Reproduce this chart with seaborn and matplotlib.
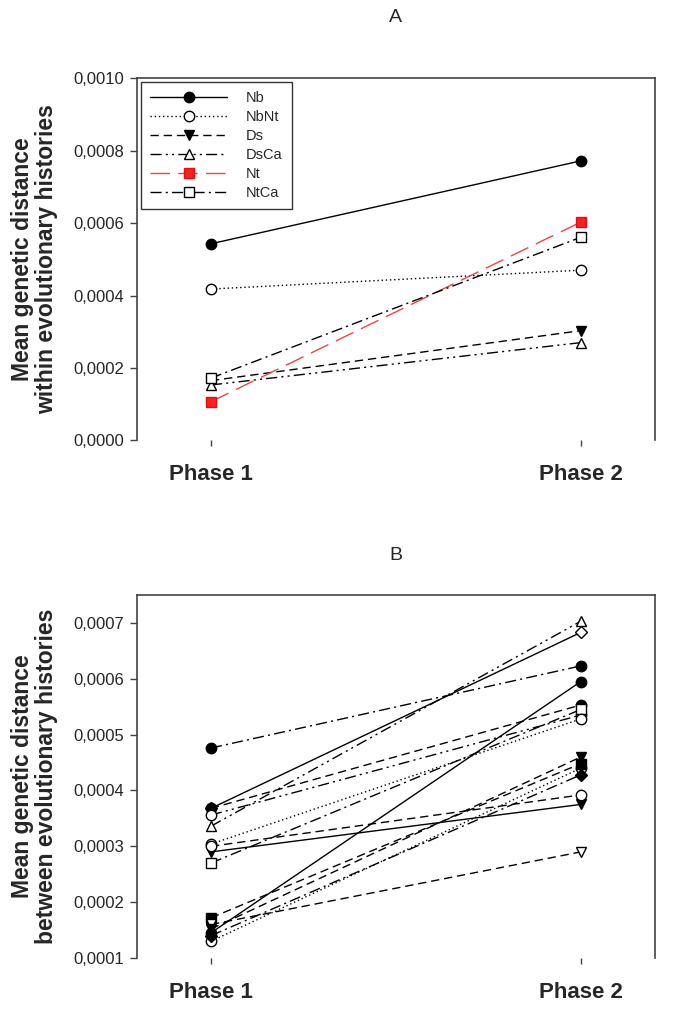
import numpy as np
import pandas as pd
import seaborn as sns
import matplotlib
matplotlib.use("Agg")
import matplotlib.pyplot as plt

sns.set_style("ticks")
plt.rcParams['font.family'] = ['Liberation Sans', 'DejaVu Sans']

phases = ["Phase 1", "Phase 2"]

# panel A: within evolutionary histories
a_names = ["Nb", "NbNt", "Ds", "DsCa", "Nt", "NtCa"]
a_phase1 = [0.000543, 0.000418, 0.000165, 0.000153, 0.000107, 0.000172]
a_phase2 = [0.000772, 0.000470, 0.000303, 0.000270, 0.000603, 0.000561]

# panel B: between evolutionary histories
b_phase1 = [0.000130, 0.000476, 0.000368, 0.000336, 0.000145, 0.000368, 0.000356, 0.000270,
            0.000304, 0.000290, 0.000300, 0.000172, 0.000160, 0.000152, 0.000140]
b_phase2 = [0.000440, 0.000623, 0.000683, 0.000703, 0.000595, 0.000553, 0.000535, 0.000545,
            0.000528, 0.000375, 0.000392, 0.000448, 0.000290, 0.000460, 0.000428]

# line styles
solid = '-'
dot = (0, (1, 2))
dash = (0, (6, 3.5))
dashdot = (0, (8, 3, 1.5, 3))
dashdotdot = (0, (8, 3, 1.5, 3, 1.5, 3))
longdash = (0, (14, 6))

a_styles = [('o', 'black', solid, 'black'),
            ('o', 'white', dot, 'black'),
            ('v', 'black', dash, 'black'),
            ('^', 'white', dashdotdot, 'black'),
            ('s', '#ff1e1e', longdash, '#ec4448'),
            ('s', 'white', dashdot, 'black')]

b_styles = [('o', 'white', dot), ('o', 'black', dashdot), ('D', 'white', solid),
            ('^', 'white', dashdotdot), ('o', 'black', solid), ('o', 'black', dash),
            ('o', 'white', dashdotdot), ('s', 'white', dashdot), ('o', 'white', dot),
            ('v', 'black', solid), ('o', 'white', dash), ('s', 'black', dash),
            ('v', 'white', dash), ('v', 'black', dash), ('D', 'black', dashdot)]

fig = plt.figure(figsize=(6.85, 10.17), dpi=100)
axA = fig.add_axes([0.2, 0.567, 0.756, 0.356])
axB = fig.add_axes([0.2, 0.058, 0.756, 0.357])

for i, name in enumerate(a_names):
    m, fc, ls, lc = a_styles[i]
    sns.lineplot(x=phases, y=[a_phase1[i], a_phase2[i]], ax=axA, color=lc,
                 linestyle=ls, linewidth=1.0, marker=m, markersize=7.5 if m != 's' else 7,
                 markerfacecolor=fc, markeredgecolor='black' if fc != '#ff1e1e' else '#dd1111',
                 markeredgewidth=1.0, label=name)

for i in range(len(b_phase1)):
    m, fc, ls = b_styles[i]
    sns.lineplot(x=phases, y=[b_phase1[i], b_phase2[i]], ax=axB, color='black',
                 linestyle=ls, linewidth=1.0, marker=m, markersize=7.5 if m not in 'sD' else 6.5,
                 markerfacecolor=fc, markeredgecolor='black', markeredgewidth=1.0)

axA.set_ylim(0, 0.001)
axA.set_yticks(np.arange(0, 0.0011, 0.0002))
axA.set_yticklabels([f"{v:.4f}".replace('.', ',') for v in np.arange(0, 0.0011, 0.0002)])
axB.set_ylim(0.0001, 0.00075)
axB.set_yticks(np.arange(0.0001, 0.00071, 0.0001))
axB.set_yticklabels([f"{v:.4f}".replace('.', ',') for v in np.arange(0.0001, 0.00071, 0.0001)])

leg = axA.legend(loc='upper left', bbox_to_anchor=(0.008, 0.99), frameon=True, fancybox=False,
                 edgecolor='black', fontsize=10.5, handlelength=5.3, handletextpad=1.3,
                 labelspacing=0.35, borderpad=0.6, borderaxespad=0)
leg.get_frame().set_linewidth(1.0)

ylabels = ["Mean genetic distance\nwithin evolutionary histories",
           "Mean genetic distance\nbetween evolutionary histories"]
for ax, yl in zip([axA, axB], ylabels):
    ax.set_xlim(-0.2, 1.2)
    ax.set_xlabel("")
    ax.set_ylabel(yl, fontsize=16.5, fontweight='bold', labelpad=11, linespacing=1.05)
    ax.tick_params(axis='y', labelsize=12, length=5, width=1, color='#444', pad=4)
    ax.tick_params(axis='x', labelsize=16, length=4, width=1, color='#444', pad=13)
    for lab in ax.get_xticklabels():
        lab.set_fontweight('bold')
    ax.spines['bottom'].set_visible(False)
    for s in ['left', 'top', 'right']:
        ax.spines[s].set_color('#444')
        ax.spines[s].set_linewidth(1.2)

fig.text(0.578, 1 - 18 / 1017, "A", ha='center', va='center', fontsize=14)
fig.text(0.578, 1 - 555 / 1017, "B", ha='center', va='center', fontsize=14)

fig.savefig("out.png", dpi=100)
